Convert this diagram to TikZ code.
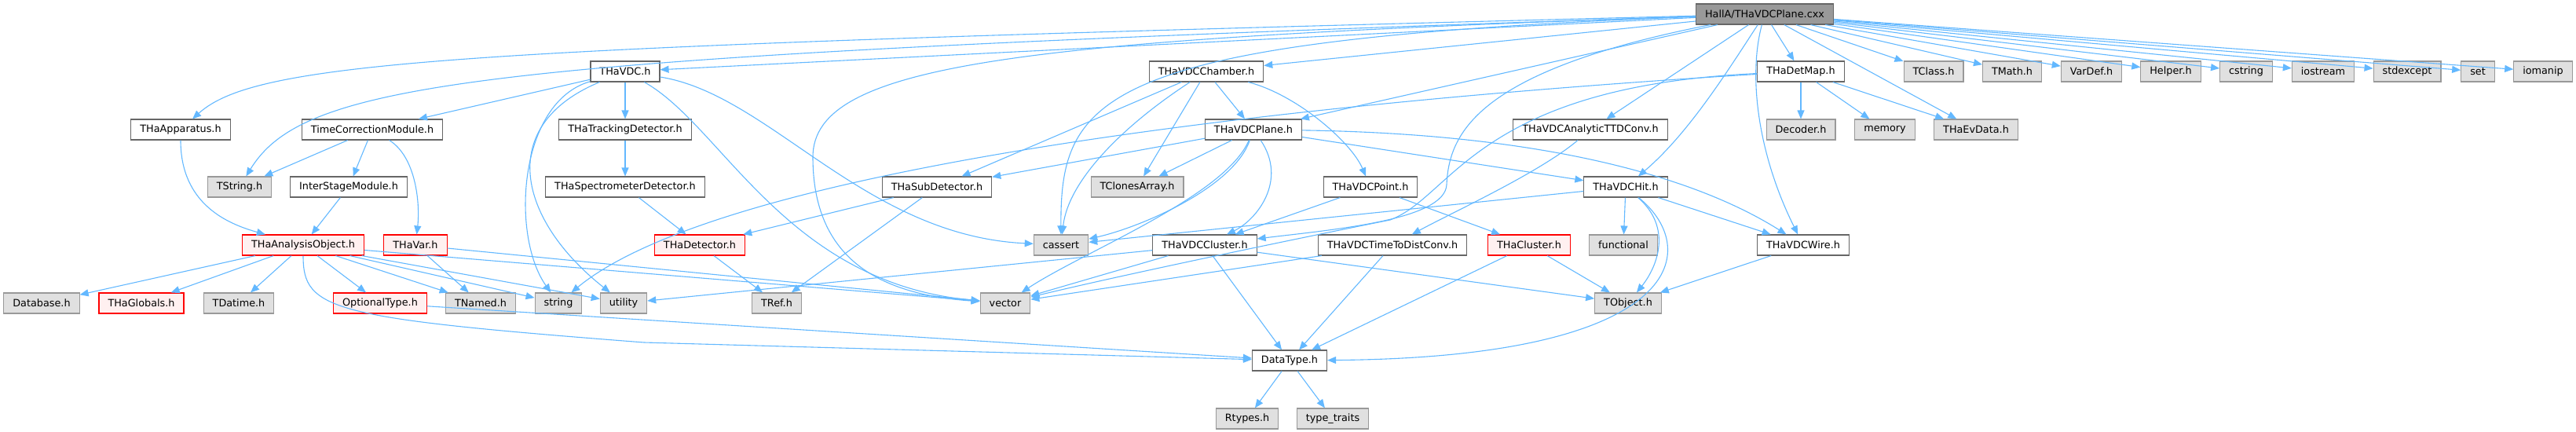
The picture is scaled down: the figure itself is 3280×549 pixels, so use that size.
\documentclass[tikz,border=0pt]{standalone}
\usepackage{fontspec}
\setmainfont{DejaVu Sans}
\usepackage{xcolor}
\usetikzlibrary{arrows.meta}
\definecolor{edge}{HTML}{63B8FF}
\definecolor{frame}{HTML}{666666}
\definecolor{sysframe}{HTML}{999999}
\definecolor{sysfill}{HTML}{E0E0E0}
\definecolor{redframe}{HTML}{FF0000}
\definecolor{redfill}{HTML}{FFF0F0}
\definecolor{rootfill}{HTML}{999999}

\begin{document}
\begin{tikzpicture}[
  x=1pt, y=-1pt,
  hfile/.style   = {draw=frame, fill=white, line width=1.1pt, font=\fontsize{12.8}{14}\selectfont,
                    inner xsep=11.5pt, inner ysep=0pt, minimum height=26pt},
  sysfile/.style = {hfile, draw=sysframe, fill=sysfill},
  redfile/.style = {hfile, draw=redframe, fill=redfill},
  rootfile/.style= {hfile, fill=rootfill},
  dep/.style     = {-{Triangle[length=11pt, width=9pt]}, draw=edge, line width=1.1pt},
]
\useasboundingbox (0,0) rectangle (3280,549);

\node[rootfile] (root) at (2247,18) {HallA/THaVDCPlane.cxx};

\node[hfile] (vdc) at (796,91) {THaVDC.h};
\node[hfile] (chamber) at (1536,91) {THaVDCChamber.h};
\node[hfile] (detmap) at (2293,91) {THaDetMap.h};
\node[sysfile] (tclass) at (2462,91) {TClass.h};
\node[sysfile] (tmath) at (2562,91) {TMath.h};
\node[sysfile] (vardef) at (2663,91) {VarDef.h};
\node[sysfile] (helper) at (2764,91) {Helper.h};
\node[sysfile] (cstring) at (2860,91) {cstring};
\node[sysfile] (iostream) at (2958,91) {iostream};
\node[sysfile] (stdexcept) at (3065,91) {stdexcept};
\node[sysfile] (stdset) at (3155,91) {set};
\node[sysfile] (iomanip) at (3238,91) {iomanip};

\node[hfile] (apparatus) at (230,165) {THaApparatus.h};
\node[hfile] (tcm) at (474,165) {TimeCorrectionModule.h};
\node[hfile] (tracking) at (796,165) {THaTrackingDetector.h};
\node[hfile] (plane) at (1596,165) {THaVDCPlane.h};
\node[hfile] (anattd) at (2025,165) {THaVDCAnalyticTTDConv.h};
\node[sysfile] (decoder) at (2293,165) {Decoder.h};
\node[sysfile] (memory) at (2400,165) {memory};
\node[sysfile] (evdata) at (2516,165) {THaEvData.h};

\node[sysfile] (tstring) at (305,238) {TString.h};
\node[hfile] (ism) at (444,238) {InterStageModule.h};
\node[hfile] (spectro) at (796,238) {THaSpectrometerDetector.h};
\node[hfile] (subdet) at (1193,238) {THaSubDetector.h};
\node[sysfile] (clones) at (1448,238) {TClonesArray.h};
\node[hfile] (point) at (1745,238) {THaVDCPoint.h};
\node[hfile] (hit) at (2070,238) {THaVDCHit.h};

\node[redfile] (ao) at (386,312) {THaAnalysisObject.h};
\node[redfile] (thavar) at (529,312) {THaVar.h};
\node[redfile] (detector) at (891,312) {THaDetector.h};
\node[sysfile] (cassert) at (1351,312) {cassert};
\node[hfile] (cluster) at (1534,312) {THaVDCCluster.h};
\node[hfile] (ttdconv) at (1773,312) {THaVDCTimeToDistConv.h};
\node[redfile] (thacluster) at (1947,312) {THaCluster.h};
\node[sysfile] (functional) at (2067,312) {functional};
\node[hfile] (wire) at (2296,312) {THaVDCWire.h};

\node[sysfile] (database) at (53,386) {Database.h};
\node[redfile] (globals) at (180,386) {THaGlobals.h};
\node[sysfile] (tdatime) at (304,386) {TDatime.h};
\node[redfile] (optional) at (484,386) {OptionalType.h};
\node[sysfile] (tnamed) at (612,386) {TNamed.h};
\node[sysfile] (string) at (711,386) {string};
\node[sysfile] (utility) at (794,386) {utility};
\node[sysfile] (tref) at (989,386) {TRef.h};
\node[sysfile] (vector) at (1280,386) {vector};
\node[sysfile] (tobject) at (2073,386) {TObject.h};

\node[hfile] (datatype) at (1642,459) {DataType.h};
\node[sysfile] (rtypes) at (1588,533) {Rtypes.h};
\node[sysfile] (traits) at (1697,533) {type\_traits};

\draw[dep] (root) .. controls (600,60) and (330,75) .. (apparatus);
\draw[dep] (root) .. controls (620,72) and (390,100) .. (tstring);
\draw[dep] (root) -- (vdc);
\draw[dep] (root) -- (chamber);
\draw[dep] (root) -- (plane);
\draw[dep] (root) .. controls (1400,50) and (1350,120) .. (cassert);
\draw[dep] (root) .. controls (1300,50) and (1035,80) .. (1035,200) .. controls (1035,330) and (1120,375) .. (vector);
\draw[dep] (root) .. controls (1880,90) and (1845,170) .. (1842,235) .. controls (1840,280) and (1700,292) .. (cluster);
\draw[dep] (root) -- (anattd);
\draw[dep] (root) .. controls (2200,90) and (2150,170) .. (hit);
\draw[dep] (root) .. controls (2225,100) and (2240,200) .. (wire);
\draw[dep] (root) -- (detmap);
\draw[dep] (root) -- (evdata);
\draw[dep] (root) -- (tclass);
\draw[dep] (root) -- (tmath);
\draw[dep] (root) -- (vardef);
\draw[dep] (root) -- (helper);
\draw[dep] (root) -- (cstring);
\draw[dep] (root) -- (iostream);
\draw[dep] (root) -- (stdexcept);
\draw[dep] (root) -- (stdset);
\draw[dep] (root) -- (iomanip);

\draw[dep] (vdc) -- (tcm);
\draw[dep] (vdc) -- (tracking);
\draw[dep] (vdc) .. controls (660,130) and (650,300) .. (string);
\draw[dep] (vdc) .. controls (630,160) and (660,280) .. (utility);
\draw[dep] (vdc) .. controls (920,160) and (1000,360) .. (vector);
\draw[dep] (vdc) .. controls (980,120) and (1100,300) .. (cassert);

\draw[dep] (tcm) -- (tstring);
\draw[dep] (tcm) -- (ism);
\draw[dep] (tcm) .. controls (530,200) and (535,260) .. (thavar);
\draw[dep] (ism) -- (ao);
\draw[dep] (apparatus) .. controls (230,260) and (290,285) .. (ao);
\draw[dep] (tracking) -- (spectro);
\draw[dep] (spectro) -- (detector);
\draw[dep] (detector) -- (tref);

\draw[dep] (ao) -- (database);
\draw[dep] (ao) -- (globals);
\draw[dep] (ao) -- (tdatime);
\draw[dep] (ao) -- (optional);
\draw[dep] (ao) -- (tnamed);
\draw[dep] (ao) -- (string);
\draw[dep] (ao) -- (utility);
\draw[dep] (ao) -- (vector);
\draw[dep] (ao) .. controls (386,395) and (420,405) .. (820,436) -- (datatype);
\draw[dep] (thavar) -- (tnamed);
\draw[dep] (thavar) -- (vector);
\draw[dep] (optional) -- (datatype);

\draw[dep] (chamber) -- (subdet);
\draw[dep] (chamber) .. controls (1430,160) and (1360,230) .. (cassert);
\draw[dep] (chamber) -- (clones);
\draw[dep] (chamber) -- (plane);
\draw[dep] (chamber) .. controls (1650,120) and (1720,180) .. (point);

\draw[dep] (plane) -- (subdet);
\draw[dep] (plane) -- (clones);
\draw[dep] (plane) .. controls (1570,240) and (1450,290) .. (cassert);
\draw[dep] (plane) .. controls (1560,250) and (1380,320) .. (vector);
\draw[dep] (plane) .. controls (1640,230) and (1600,280) .. (cluster);
\draw[dep] (plane) -- (hit);
\draw[dep] (plane) .. controls (1950,170) and (2150,220) .. (wire);

\draw[dep] (subdet) -- (detector);
\draw[dep] (subdet) -- (tref);
\draw[dep] (point) -- (cluster);
\draw[dep] (point) -- (thacluster);

\draw[dep] (hit) -- (cassert);
\draw[dep] (hit) -- (functional);
\draw[dep] (hit) .. controls (2130,290) and (2110,340) .. (tobject);
\draw[dep] (hit) -- (wire);
\draw[dep] (hit) .. controls (2170,320) and (2140,455) .. (datatype);

\draw[dep] (anattd) .. controls (1960,220) and (1850,270) .. (ttdconv);
\draw[dep] (ttdconv) -- (vector);
\draw[dep] (ttdconv) -- (datatype);
\draw[dep] (thacluster) -- (tobject);
\draw[dep] (thacluster) -- (datatype);
\draw[dep] (cluster) -- (utility);
\draw[dep] (cluster) -- (vector);
\draw[dep] (cluster) -- (datatype);
\draw[dep] (cluster) -- (tobject);
\draw[dep] (wire) -- (tobject);

\draw[dep] (detmap) -- (decoder);
\draw[dep] (detmap) -- (memory);
\draw[dep] (detmap) -- (evdata);
\draw[dep] (detmap) .. controls (1500,140) and (900,230) .. (string);
\draw[dep] (detmap) .. controls (1880,110) and (1850,250) .. (1770,280) .. controls (1700,294) and (1450,345) .. (vector);

\draw[dep] (datatype) -- (rtypes);
\draw[dep] (datatype) -- (traits);

\end{tikzpicture}
\end{document}
